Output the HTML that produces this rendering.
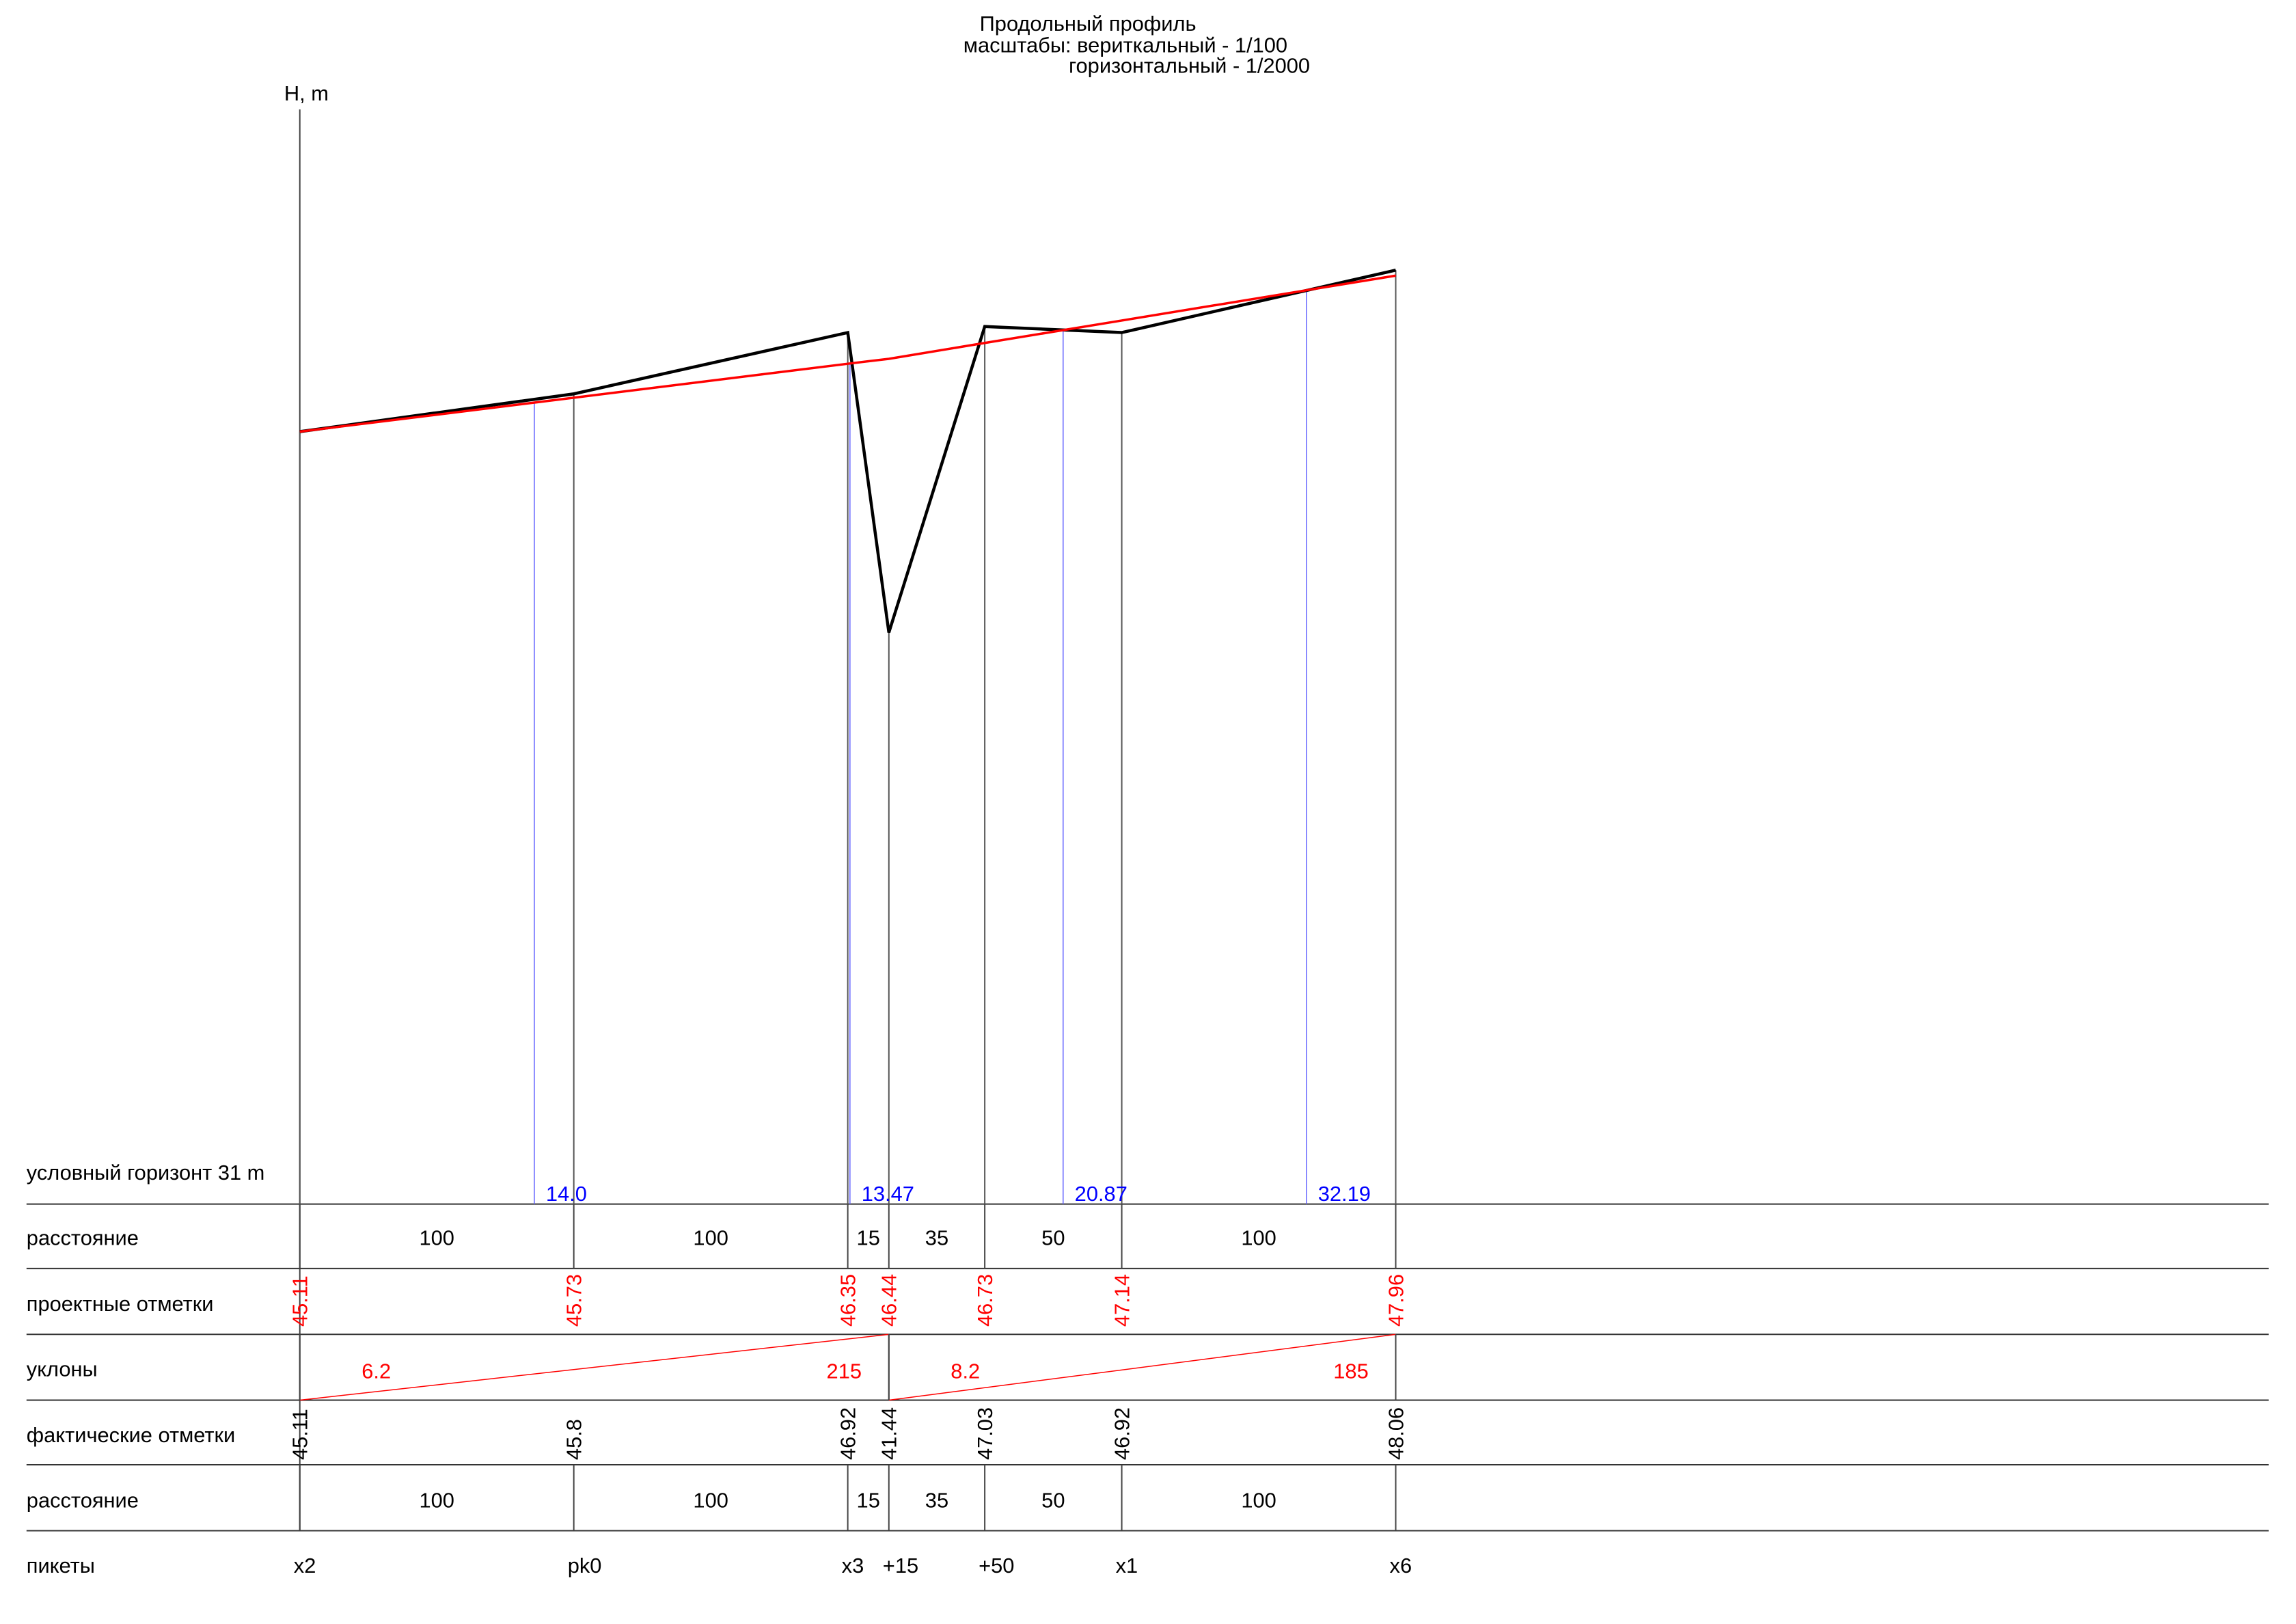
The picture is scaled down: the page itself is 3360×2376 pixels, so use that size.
<!DOCTYPE html>
<html><head><meta charset="utf-8"><style>
html,body{margin:0;padding:0;background:#fff;}
svg{display:block;font-family:"Liberation Sans",sans-serif;}
</style></head><body>
<svg id="chart" width="3360" height="2376" viewBox="0 0 3360 2376" xmlns="http://www.w3.org/2000/svg">
<g transform="scale(0.9949)">
<text x="1441" y="45" font-size="31">Продольный профиль</text>
<text x="1417" y="77" font-size="31">масштабы: вериткальный - 1/100</text>
<text x="1572" y="107" font-size="31">горизонтальный - 1/2000</text>
<text x="418" y="148" font-size="31">H, m</text>
<line x1="441" y1="161" x2="441" y2="2251" stroke="#444" stroke-width="2"/>
<text x="39" y="1735" font-size="31">условный горизонт 31 m</text>
<g id="g"></g>
</g>
</svg>
<script>
const stations = ["x2","pk0","x3","+15","+50","x1","x6"];
const chainage = [0,100,200,215,250,300,400];
const actualElev = [45.11,45.8,46.92,41.44,47.03,46.92,48.06];
const designElev = [45.11,45.73,46.35,46.44,46.73,47.14,47.96];
const designLabels = ["45.11","45.73","46.35","46.44","46.73","47.14","47.96"];
const actualLabels = ["45.11","45.8","46.92","41.44","47.03","46.92","48.06"];
const distLabels = ["100","100","15","35","50","100"];
const zeroPointChainage = [85.6,200.8,278.6,367.4];
const zeroPointLabels = ["14.0","13.47","20.87","32.19"];
const slopeBreaks = [0,215,400];
const slopeLabelsA = ["6.2","8.2"];
const slopeLabelsB = ["215","185"];
const rowLabels = ["расстояние","проектные отметки","уклоны","фактические отметки","расстояние","пикеты"];

const NS="http://www.w3.org/2000/svg";
const g=document.getElementById('g');
const X=d=>441+4.03*d;
const Y=h=>1770.6-(h-31)*80.5;
const rows=[1770.6,1865.4,1962.3,2059,2154,2251];
const FS=31;
function el(t,a,txt){const e=document.createElementNS(NS,t);for(const k in a)e.setAttribute(k,a[k]);if(txt!==undefined)e.textContent=txt;g.appendChild(e);return e;}
function interp(arr,d){for(let i=0;i<chainage.length-1;i++){if(d>=chainage[i]&&d<=chainage[i+1]){const t=(d-chainage[i])/(chainage[i+1]-chainage[i]);return arr[i]+t*(arr[i+1]-arr[i]);}}return arr[arr.length-1];}

rows.forEach((y,i)=>{const l=el('line',{x1:39,y1:y,x2:3337,y2:y,stroke:'#333','stroke-width':2});

});
const rowC=[1831,1928,2024,2121,2217,2313];
rowLabels.forEach((t,i)=>{const e=el('text',{x:39,y:rowC[i],'font-size':FS},t);

});

chainage.forEach((d,i)=>{
 const x=X(d);
 const l=el('line',{x1:x,y1:Y(actualElev[i]),x2:x,y2:rows[0],stroke:'#555','stroke-width':2});
 
 
 const a=el('line',{x1:x,y1:rows[0],x2:x,y2:rows[1],stroke:'#444','stroke-width':2});
 
 
 const b=el('line',{x1:x,y1:rows[4],x2:x,y2:rows[5],stroke:'#444','stroke-width':2});
 
 
 const dt=el('text',{x:x+11,y:1951,'font-size':FS,fill:'#f00',transform:`rotate(-90 ${x+11} 1951)`},designLabels[i]);
 
 
 const at=el('text',{x:x+11,y:2147,'font-size':FS,fill:'#000',transform:`rotate(-90 ${x+11} 2147)`},actualLabels[i]);
 
 
 const pt=el('text',{x:x-9,y:rowC[5],'font-size':FS},stations[i]);
 
 
});
distLabels.forEach((t,i)=>{const xm=(X(chainage[i])+X(chainage[i+1]))/2;
 [rowC[0],rowC[4]].forEach(y=>{const e=el('text',{x:xm,y:y,'font-size':FS,'text-anchor':'middle'},t);
 
 });});

zeroPointChainage.forEach((d,i)=>{const x=X(d);const h=interp(designElev,d);
 const l=el('line',{x1:x,y1:Y(h),x2:x,y2:rows[0],stroke:'#66f','stroke-width':1.5});
 
 
 const t=el('text',{x:x+17,y:1766,'font-size':FS,fill:'#00f'},zeroPointLabels[i]);
 
 });

for(let i=0;i<slopeBreaks.length-1;i++){
 const x1=X(slopeBreaks[i]),x2=X(slopeBreaks[i+1]);
 const l=el('line',{x1:x1,y1:rows[3],x2:x2,y2:rows[2],stroke:'#f00','stroke-width':1.5});
 
 
 [x1,x2].forEach(x=>{const v=el('line',{x1:x,y1:rows[2],x2:x,y2:rows[3],stroke:'#444','stroke-width':2});
 
 });
 const a=el('text',{x:x1+91,y:2027,'font-size':FS,fill:'#f00'},slopeLabelsA[i]);
 
 
 const b=el('text',{x:x2-40,y:2027,'font-size':FS,fill:'#f00','text-anchor':'end'},slopeLabelsB[i]);
 
 
}

const act=el('polyline',{points:chainage.map((d,i)=>X(d)+','+Y(actualElev[i])).join(' '),fill:'none',stroke:'#000','stroke-width':4.5,'stroke-linejoin':'miter'});


const des=el('polyline',{points:chainage.map((d,i)=>X(d)+','+Y(designElev[i])).join(' '),fill:'none',stroke:'#f00','stroke-width':3.5});


</script>
</body></html>
